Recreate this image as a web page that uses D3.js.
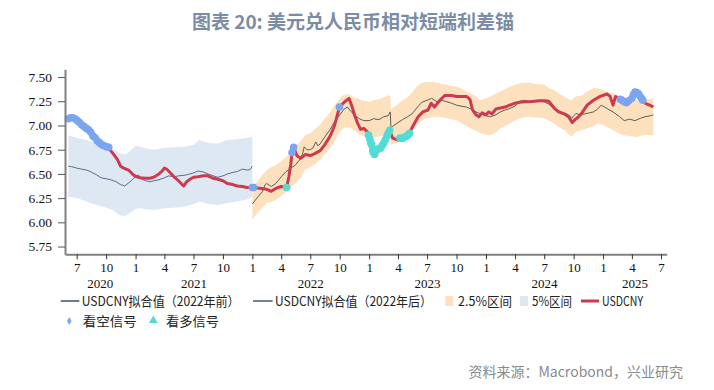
<!DOCTYPE html>
<html><head><meta charset="utf-8">
<script src="https://cdn.jsdelivr.net/npm/d3@7"></script>
<style>body{margin:0;background:#fff}svg{display:block}</style>
</head><body>
<svg id="c" width="714" height="390"></svg>
<script>
// ---------- DATA ----------
const titleText = "图表 20: 美元兑人民币相对短端利差锚";
const sourceText = "资料来源：Macrobond，兴业研究";
const yTicks = [5.75, 6.00, 6.25, 6.50, 6.75, 7.00, 7.25, 7.50];
const monthTicks = ["2020-07-01","2020-10-01","2021-01-01","2021-04-01","2021-07-01","2021-10-01","2022-01-01","2022-04-01","2022-07-01","2022-10-01","2023-01-01","2023-04-01","2023-07-01","2023-10-01","2024-01-01","2024-04-01","2024-07-01","2024-10-01","2025-01-01","2025-04-01","2025-07-01"];
const yearLabels = [2020, 2021, 2022, 2023, 2024, 2025];

// USDCNY spot
const spotDates = ["2020-06-05","2020-06-15","2020-06-24","2020-07-03","2020-07-10","2020-07-17","2020-07-31","2020-08-14","2020-08-28","2020-09-11","2020-09-25","2020-10-09","2020-10-15","2020-10-25","2020-11-05","2020-11-15","2020-11-25","2020-12-10","2020-12-25","2021-01-05","2021-01-15","2021-02-01","2021-02-15","2021-03-01","2021-03-15","2021-03-25","2021-04-01","2021-04-08","2021-04-20","2021-05-01","2021-05-15","2021-05-31","2021-06-10","2021-06-20","2021-07-01","2021-07-15","2021-08-01","2021-08-15","2021-09-01","2021-09-15","2021-10-01","2021-10-15","2021-11-01","2021-11-15","2021-12-01","2021-12-15","2022-01-01","2022-01-15","2022-02-01","2022-02-15","2022-03-01","2022-03-15","2022-04-01","2022-04-18","2022-04-25","2022-05-01","2022-05-05","2022-05-10","2022-05-20","2022-06-01","2022-06-15","2022-07-01","2022-07-15","2022-08-01","2022-08-15","2022-09-01","2022-09-15","2022-09-30","2022-10-15","2022-10-30","2022-11-08","2022-11-15","2022-11-25","2022-12-05","2022-12-15","2022-12-25","2022-12-30","2023-01-09","2023-01-14","2023-01-25","2023-02-05","2023-02-15","2023-02-25","2023-03-06","2023-03-15","2023-04-01","2023-04-07","2023-04-17","2023-04-28","2023-05-07","2023-05-17","2023-06-03","2023-06-18","2023-07-04","2023-07-14","2023-07-24","2023-08-10","2023-08-25","2023-09-15","2023-10-01","2023-10-15","2023-11-01","2023-11-12","2023-11-20","2023-12-01","2023-12-10","2023-12-20","2024-01-01","2024-01-10","2024-01-20","2024-02-01","2024-02-15","2024-03-01","2024-03-15","2024-04-01","2024-04-15","2024-05-01","2024-05-15","2024-06-01","2024-06-15","2024-07-01","2024-07-15","2024-08-01","2024-08-15","2024-09-01","2024-09-15","2024-09-27","2024-10-05","2024-10-15","2024-10-26","2024-11-12","2024-12-02","2024-12-23","2025-01-13","2025-01-23","2025-02-01","2025-02-09","2025-02-19","2025-03-01","2025-03-15","2025-04-01","2025-04-11","2025-04-21","2025-05-01","2025-05-12","2025-06-02","2025-06-07"];
const spotValues = [7.07,7.08,7.07,7.05,7.03,7.005,6.97,6.93,6.87,6.82,6.79,6.775,6.74,6.70,6.65,6.58,6.56,6.54,6.49,6.47,6.46,6.455,6.455,6.47,6.50,6.53,6.56,6.55,6.51,6.47,6.43,6.375,6.42,6.445,6.465,6.47,6.48,6.48,6.455,6.445,6.43,6.40,6.39,6.375,6.37,6.36,6.36,6.355,6.35,6.34,6.32,6.35,6.37,6.36,6.47,6.60,6.72,6.775,6.69,6.66,6.70,6.69,6.71,6.74,6.80,6.89,7.00,7.19,7.24,7.28,7.20,7.12,7.03,6.96,6.97,6.94,6.92,6.80,6.72,6.75,6.765,6.815,6.885,6.95,6.87,6.85,6.87,6.87,6.89,6.92,6.99,7.09,7.14,7.16,7.23,7.19,7.26,7.31,7.31,7.30,7.30,7.30,7.27,7.16,7.11,7.09,7.13,7.11,7.14,7.12,7.17,7.18,7.19,7.21,7.23,7.24,7.245,7.245,7.25,7.255,7.255,7.25,7.18,7.14,7.12,7.09,7.03,7.06,7.085,7.125,7.21,7.26,7.30,7.325,7.30,7.21,7.30,7.28,7.26,7.235,7.28,7.345,7.33,7.28,7.23,7.20,7.19];

// Fitted value before 2022
const fitPreDates = ["2020-06-05","2020-06-15","2020-07-01","2020-07-15","2020-08-01","2020-08-15","2020-09-01","2020-09-15","2020-10-01","2020-10-15","2020-11-01","2020-11-15","2020-11-28","2020-12-15","2021-01-01","2021-01-10","2021-01-20","2021-02-01","2021-02-15","2021-03-01","2021-03-15","2021-04-01","2021-04-15","2021-05-01","2021-05-15","2021-06-01","2021-06-15","2021-07-01","2021-07-15","2021-08-01","2021-08-15","2021-09-01","2021-09-15","2021-10-01","2021-10-15","2021-11-01","2021-11-15","2021-12-01","2021-12-15","2021-12-25","2022-01-01"];
const fitPreValues = [6.58,6.575,6.56,6.55,6.54,6.52,6.49,6.46,6.45,6.44,6.42,6.39,6.375,6.42,6.47,6.49,6.445,6.43,6.42,6.43,6.44,6.46,6.48,6.47,6.48,6.485,6.495,6.51,6.53,6.52,6.50,6.48,6.465,6.48,6.50,6.515,6.525,6.55,6.54,6.545,6.58];

// 5% band (before 2022)
const band5Dates = ["2020-06-05","2020-07-01","2020-08-01","2020-09-01","2020-10-01","2020-10-20","2020-11-15","2020-12-01","2020-12-15","2021-01-01","2021-01-15","2021-02-01","2021-03-01","2021-04-01","2021-05-01","2021-06-01","2021-07-01","2021-07-20","2021-08-15","2021-09-15","2021-10-15","2021-11-15","2021-12-15","2022-01-01"];
const band5Upper = [6.90,6.87,6.85,6.82,6.79,6.765,6.71,6.70,6.74,6.79,6.78,6.765,6.75,6.77,6.775,6.78,6.80,6.85,6.82,6.815,6.85,6.86,6.87,6.885];
const band5Lower = [6.265,6.25,6.215,6.18,6.15,6.13,6.07,6.065,6.10,6.14,6.145,6.135,6.13,6.145,6.15,6.16,6.19,6.215,6.19,6.18,6.20,6.215,6.235,6.265];

// Fitted value after 2022
const fitPostDates = ["2022-01-01","2022-01-15","2022-02-01","2022-02-10","2022-02-15","2022-03-01","2022-03-15","2022-04-01","2022-04-15","2022-05-01","2022-05-15","2022-06-01","2022-06-08","2022-06-12","2022-06-20","2022-07-01","2022-07-10","2022-07-18","2022-07-25","2022-08-01","2022-08-15","2022-09-01","2022-09-15","2022-10-01","2022-10-15","2022-10-25","2022-11-01","2022-11-15","2022-12-01","2022-12-15","2023-01-01","2023-01-15","2023-02-01","2023-02-15","2023-03-01","2023-03-08","2023-03-10","2023-03-15","2023-04-01","2023-04-15","2023-05-01","2023-05-15","2023-06-01","2023-06-15","2023-07-01","2023-07-15","2023-08-01","2023-08-15","2023-09-01","2023-09-15","2023-10-01","2023-10-15","2023-11-01","2023-11-15","2023-12-01","2023-12-15","2024-01-01","2024-01-15","2024-02-01","2024-02-15","2024-03-01","2024-03-15","2024-04-01","2024-04-15","2024-05-01","2024-05-15","2024-06-01","2024-06-15","2024-07-01","2024-07-15","2024-08-01","2024-08-15","2024-09-01","2024-09-15","2024-09-25","2024-10-08","2024-10-20","2024-11-12","2024-12-02","2024-12-15","2024-12-26","2025-01-13","2025-02-01","2025-02-22","2025-03-08","2025-03-25","2025-04-11","2025-04-28","2025-05-12","2025-05-28","2025-06-07"];
const fitPostValues = [6.19,6.25,6.315,6.39,6.40,6.37,6.40,6.47,6.52,6.56,6.59,6.66,6.72,6.78,6.75,6.75,6.77,6.83,6.79,6.81,6.88,6.96,7.04,7.11,7.17,7.19,7.16,7.11,7.07,7.05,7.05,7.07,7.06,7.09,7.10,7.14,6.97,6.99,7.03,7.06,7.09,7.12,7.19,7.24,7.26,7.28,7.245,7.26,7.245,7.23,7.21,7.20,7.19,7.17,7.14,7.12,7.10,7.09,7.11,7.14,7.16,7.175,7.20,7.25,7.26,7.245,7.255,7.25,7.245,7.22,7.175,7.15,7.13,7.11,7.075,7.125,7.11,7.125,7.14,7.17,7.21,7.175,7.14,7.09,7.05,7.065,7.05,7.075,7.09,7.10,7.11];

// 2.5% band (after 2022)
const band25Dates = ["2022-01-01","2022-01-20","2022-02-01","2022-02-15","2022-03-01","2022-03-15","2022-04-01","2022-04-15","2022-05-01","2022-05-15","2022-06-01","2022-06-15","2022-07-01","2022-07-15","2022-08-01","2022-08-15","2022-09-01","2022-09-15","2022-10-01","2022-10-15","2022-11-01","2022-11-15","2022-12-01","2022-12-15","2023-01-01","2023-01-15","2023-02-01","2023-02-15","2023-03-01","2023-03-08","2023-03-10","2023-03-15","2023-04-01","2023-04-15","2023-05-01","2023-05-15","2023-06-01","2023-06-15","2023-07-01","2023-07-15","2023-08-01","2023-08-15","2023-09-01","2023-09-15","2023-10-01","2023-10-15","2023-11-01","2023-11-15","2023-12-01","2023-12-15","2024-01-01","2024-01-15","2024-02-01","2024-02-15","2024-03-01","2024-03-15","2024-04-01","2024-04-15","2024-05-01","2024-05-15","2024-06-01","2024-06-15","2024-07-01","2024-07-15","2024-08-01","2024-08-15","2024-09-01","2024-09-15","2024-09-25","2024-10-08","2024-10-26","2024-11-15","2024-12-02","2024-12-15","2025-01-02","2025-02-01","2025-03-04","2025-04-15","2025-05-15","2025-06-07"];
const band25Upper = [6.35,6.44,6.49,6.54,6.57,6.59,6.63,6.67,6.72,6.78,6.84,6.90,6.92,6.96,7.01,7.07,7.14,7.21,7.28,7.32,7.32,7.29,7.27,7.255,7.245,7.26,7.27,7.29,7.31,7.31,7.16,7.18,7.22,7.26,7.29,7.34,7.41,7.44,7.45,7.45,7.44,7.43,7.42,7.41,7.40,7.385,7.35,7.33,7.30,7.26,7.28,7.30,7.33,7.35,7.375,7.40,7.42,7.435,7.44,7.44,7.43,7.425,7.42,7.39,7.365,7.33,7.30,7.27,7.26,7.30,7.31,7.355,7.385,7.385,7.365,7.33,7.28,7.26,7.275,7.27];
const band25Lower = [6.03,6.11,6.15,6.20,6.21,6.23,6.27,6.31,6.36,6.40,6.46,6.545,6.57,6.60,6.65,6.70,6.76,6.84,6.93,6.98,6.98,6.95,6.91,6.89,6.87,6.875,6.885,6.90,6.93,6.935,6.80,6.81,6.825,6.86,6.89,6.94,7.01,7.05,7.075,7.085,7.09,7.085,7.075,7.065,7.055,7.025,6.99,6.97,6.945,6.92,6.905,6.90,6.93,6.97,6.995,7.02,7.05,7.075,7.085,7.09,7.085,7.08,7.075,7.05,7.02,6.985,6.955,6.91,6.885,6.935,6.95,6.975,6.99,7.02,7.005,6.95,6.90,6.88,6.905,6.90];

// Signals
const bearDates = ["2020-06-05","2020-06-12","2020-06-19","2020-06-26","2020-07-03","2020-07-10","2020-07-17","2020-07-24","2020-07-31","2020-08-07","2020-08-14","2020-08-21","2020-08-28","2020-09-04","2020-09-11","2020-09-18","2020-09-25","2020-10-02","2020-10-09","2022-01-01","2022-01-05","2022-05-05","2022-05-10","2022-09-30","2025-02-24","2025-03-01","2025-03-08","2025-03-15","2025-03-22","2025-04-01","2025-04-06","2025-04-11","2025-04-16","2025-04-21","2025-04-26","2025-05-01","2025-05-05"];
const bearValues = [7.07,7.08,7.08,7.07,7.05,7.03,7.005,6.99,6.97,6.955,6.93,6.89,6.87,6.84,6.82,6.80,6.79,6.78,6.775,6.36,6.36,6.72,6.775,7.19,7.27,7.26,7.245,7.235,7.255,7.28,7.32,7.345,7.34,7.33,7.305,7.28,7.26];
const bullDates = ["2022-04-18","2022-12-30","2023-01-03","2023-01-06","2023-01-09","2023-01-12","2023-01-14","2023-01-18","2023-01-22","2023-01-25","2023-01-30","2023-02-05","2023-02-10","2023-02-15","2023-02-20","2023-02-25","2023-03-01","2023-03-06","2023-04-07","2023-04-12","2023-04-17","2023-04-22","2023-04-28","2023-05-03","2023-05-07"];
const bullValues = [6.36,6.90,6.86,6.82,6.80,6.75,6.72,6.70,6.74,6.75,6.76,6.765,6.79,6.815,6.85,6.885,6.92,6.95,6.87,6.865,6.87,6.88,6.89,6.905,6.92];

// Legend labels
const legendLabels = ["USDCNY拟合值（2022年前）","USDCNY拟合值（2022年后）","2.5%区间","5%区间","USDCNY","看空信号","看多信号"];

// ---------- STYLE ----------
const C = {
  spot: "#cc3a4f", fitPre: "#5b6b88", fitPost: "#5e5e55",
  band25: "#fde1bf", band5: "#dee8f3", bear: "#7ca5f0", bull: "#52dcd4",
  axis: "#808080", title: "#7d8ca5", source: "#8a8a8a"
};
const serif = "'Liberation Serif','Times New Roman',serif";
const cjk = "'Noto Sans CJK SC','Noto Sans',sans-serif";

// ---------- BUILD ----------
const parse = d3.utcParse("%Y-%m-%d");
const zip = (ds, vs) => ds.map((d, i) => ({date: parse(d), v: vs[i]}));
const zip3 = (ds, hi, lo) => ds.map((d, i) => ({date: parse(d), hi: hi[i], lo: lo[i]}));

const spot = zip(spotDates, spotValues);
const fitPre = zip(fitPreDates, fitPreValues);
const fitPost = zip(fitPostDates, fitPostValues);
const band5 = zip3(band5Dates, band5Upper, band5Lower);
const band25 = zip3(band25Dates, band25Upper, band25Lower);
const bear = zip(bearDates, bearValues);
const bull = zip(bullDates, bullValues);

const L = 65, R = 666.7, T = 69.3, B = 254.3;
const base = d3.scaleUtc().domain([parse("2020-07-01"), parse("2025-07-01")]).range([76.7, 661]);
const x = d3.scaleUtc().domain([base.invert(L), base.invert(R)]).range([L, R]);
const y = d3.scaleLinear().domain([5.67, 7.58]).range([B, T]);

const svg = d3.select("#c");

// Title
svg.append("text").attr("x", 353).attr("y", 29).attr("text-anchor", "middle")
  .attr("font-family", cjk).attr("font-weight", "bold").attr("font-size", 19)
  .attr("fill", C.title).text(titleText);

// Bands
const area = d3.area().x(d => x(d.date)).y0(d => y(d.lo)).y1(d => y(d.hi));
svg.append("path").datum(band5).attr("d", area).attr("fill", C.band5);
svg.append("path").datum(band25).attr("d", area).attr("fill", C.band25);

// Lines
const line = d3.line().x(d => x(d.date)).y(d => y(d.v));
svg.append("path").datum(fitPre).attr("d", line).attr("fill", "none")
  .attr("stroke", C.fitPre).attr("stroke-width", 1);
svg.append("path").datum(fitPost).attr("d", line).attr("fill", "none")
  .attr("stroke", C.fitPost).attr("stroke-width", 1);
svg.append("path").datum(spot).attr("d", line).attr("fill", "none")
  .attr("stroke", C.spot).attr("stroke-width", 3).attr("stroke-linejoin", "round");

// Signals
svg.append("g").selectAll("circle").data(bear).join("circle")
  .attr("cx", d => x(d.date)).attr("cy", d => y(d.v)).attr("r", 3.8).attr("fill", C.bear);
svg.append("g").selectAll("circle").data(bull).join("circle")
  .attr("cx", d => x(d.date)).attr("cy", d => y(d.v)).attr("r", 3.8).attr("fill", C.bull);

// Axes
const yAxis = svg.append("g").attr("transform", `translate(${L},0)`)
  .call(d3.axisLeft(y).tickValues(yTicks).tickFormat(d3.format(".2f")).tickSize(7).tickSizeOuter(0).tickPadding(6));
yAxis.select(".domain").attr("stroke", C.axis).attr("stroke-width", 2);
yAxis.selectAll(".tick line").attr("stroke", "#555");
yAxis.selectAll("text").attr("font-family", serif).attr("font-size", 13.5).attr("fill", "#111");

const xAxis = svg.append("g").attr("transform", `translate(0,${B})`)
  .call(d3.axisBottom(x).tickValues(monthTicks.map(parse))
    .tickFormat(d => d.getUTCMonth() + 1).tickSize(5).tickSizeOuter(0).tickPadding(3));
xAxis.select(".domain").attr("stroke", C.axis).attr("stroke-width", 2);
xAxis.selectAll(".tick line").attr("stroke", "#333");
xAxis.selectAll("text").attr("font-family", serif).attr("font-size", 13).attr("fill", "#111");

// Year labels
svg.append("g").selectAll("text").data(yearLabels).join("text")
  .attr("x", yr => {
    const a = Math.max(x(parse(yr + "-01-01")), L);
    const b = Math.min(x(parse((yr + 1) + "-01-01")), R);
    return (a + b) / 2;
  })
  .attr("y", 287.5).attr("text-anchor", "middle")
  .attr("font-family", serif).attr("font-size", 13).attr("fill", "#111")
  .text(d => d);

// Legend
const lg = svg.append("g").attr("font-family", cjk).attr("font-size", 13).attr("fill", "#222");
const row1 = 306, row2 = 326;
function ltext(xp, yp, s, w) {
  lg.append("text").attr("x", xp).attr("y", yp).attr("textLength", w)
    .attr("lengthAdjust", "spacingAndGlyphs").text(s);
}
lg.append("line").attr("x1", 60.7).attr("x2", 79.3).attr("y1", 301).attr("y2", 301)
  .attr("stroke", "#6d7b95").attr("stroke-width", 2);
ltext(81.7, row1, legendLabels[0], 158);
lg.append("line").attr("x1", 253).attr("x2", 272.7).attr("y1", 301).attr("y2", 301)
  .attr("stroke", "#77849a").attr("stroke-width", 2);
ltext(275, row1, legendLabels[1], 157);
lg.append("rect").attr("x", 445.3).attr("y", 296).attr("width", 8).attr("height", 10).attr("fill", C.band25);
ltext(458, row1, legendLabels[2], 54);
lg.append("rect").attr("x", 520).attr("y", 296).attr("width", 8).attr("height", 10).attr("fill", C.band5);
ltext(532, row1, legendLabels[3], 40);
lg.append("line").attr("x1", 581).attr("x2", 599).attr("y1", 301).attr("y2", 301)
  .attr("stroke", C.spot).attr("stroke-width", 3);
ltext(602, row1, legendLabels[4], 41);
lg.append("path").attr("d", d3.symbol(d3.symbolDiamond, 18)()).attr("transform", "translate(69.3,321)").attr("fill", C.bear);
ltext(82.7, row2, legendLabels[5], 54);
lg.append("path").attr("d", d3.symbol(d3.symbolTriangle, 34)()).attr("transform", "translate(153.3,320.5)").attr("fill", C.bull);
ltext(166, row2, legendLabels[6], 53);

// Source
svg.append("text").attr("x", 683).attr("y", 377).attr("text-anchor", "end")
  .attr("font-family", cjk).attr("font-size", 14).attr("fill", C.source).text(sourceText);
</script>
</body></html>
